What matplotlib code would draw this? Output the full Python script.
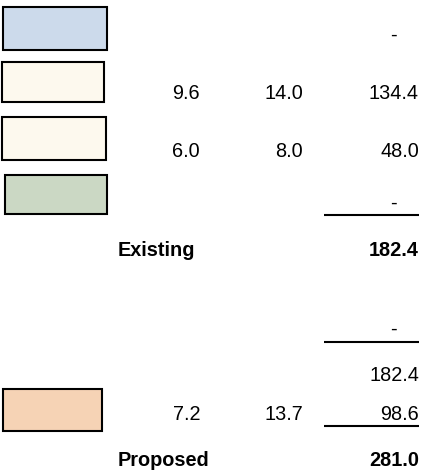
import matplotlib.pyplot as plt
from matplotlib.patches import Rectangle

plt.rcParams['font.family'] = ['Liberation Sans', 'DejaVu Sans']

# existing rows
box_colors = ['#ccdaeb', '#fdf9ee', '#fdf9ee', '#cbd8c4']
quantity = [None, 9.6, 6.0, None]
rate = [None, 14.0, 8.0, None]
amount = [0.0, 134.4, 48.0, 0.0]
existing_label = 'Existing'
existing_total = 182.4

# proposed rows
adjustment = 0.0
carried = 182.4
new_color = '#f6d3b5'
new_quantity = 7.2
new_rate = 13.7
new_amount = 98.6
proposed_label = 'Proposed'
proposed_total = 281.0

W, H = 423, 474
fig = plt.figure(figsize=(W / 100, H / 100), dpi=100)
ax = fig.add_axes([0, 0, 1, 1])
ax.set_xlim(0, W)
ax.set_ylim(H, 0)
ax.axis('off')

FS = 14.3
X1, X2, X3 = 200, 303, 419
XDASH = 397


def fmt(v):
    return f'{v:.1f}'


def amount_text(y, v, bold=False):
    if v is None or v == 0:
        ax.text(XDASH, y, '-', ha='right', va='baseline', fontsize=FS)
    else:
        ax.text(X3, y, fmt(v), ha='right', va='baseline', fontsize=FS,
                fontweight='bold' if bold else 'normal')


def underline(y):
    ax.plot([324, 419], [y, y], color='black', lw=1.5, solid_capstyle='butt')


# box rectangles (x0, y0, x1, y1) in pixels
box_rects = [(3, 7, 107, 50), (2, 62, 104, 102), (2, 117, 106, 160), (5, 175, 107, 214)]
baselines = [41, 99, 157, 209]

for rect, color, q, r, a, yb in zip(box_rects, box_colors, quantity, rate, amount, baselines):
    x0, y0, x1, y1 = rect
    ax.add_patch(Rectangle((x0, y0), x1 - x0, y1 - y0, facecolor=color,
                           edgecolor='black', lw=1.5))
    if q is not None:
        ax.text(X1, yb, fmt(q), ha='right', va='baseline', fontsize=FS)
    if r is not None:
        ax.text(X2, yb, fmt(r), ha='right', va='baseline', fontsize=FS)
    amount_text(yb, a)
underline(215)

ax.text(118, 256, existing_label, ha='left', va='baseline', fontsize=FS, fontweight='bold')
amount_text(256, existing_total, bold=True)

amount_text(335, adjustment)
underline(342)
amount_text(381, carried)

ax.add_patch(Rectangle((3, 389), 99, 42, facecolor=new_color, edgecolor='black', lw=1.5))
ax.text(X1, 420, fmt(new_quantity), ha='right', va='baseline', fontsize=FS)
ax.text(X2, 420, fmt(new_rate), ha='right', va='baseline', fontsize=FS)
amount_text(420, new_amount)
underline(426)

ax.text(118, 466, proposed_label, ha='left', va='baseline', fontsize=FS, fontweight='bold')
amount_text(466, proposed_total, bold=True)

fig.savefig('out.png', dpi=100)
